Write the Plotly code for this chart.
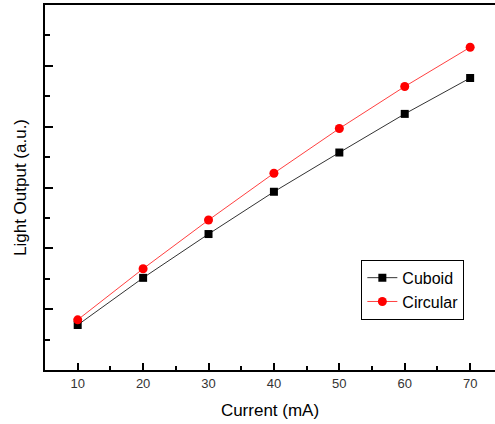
import plotly.graph_objects as go

current = [10, 20, 30, 40, 50, 60, 70]
cuboid = [1.48, 3.03, 4.47, 5.86, 7.15, 8.42, 9.60]
circular = [1.65, 3.33, 4.93, 6.47, 7.94, 9.32, 10.61]

FONT = "Liberation Sans, Arial, sans-serif"

fig = go.Figure()
fig.add_trace(go.Scatter(
    x=current, y=cuboid, name="Cuboid", mode="lines+markers",
    line=dict(color="#333333", width=1),
    marker=dict(symbol="square", size=8, color="black"),
))
fig.add_trace(go.Scatter(
    x=current, y=circular, name="Circular", mode="lines+markers",
    line=dict(color="#ff4040", width=1),
    marker=dict(symbol="circle", size=9, color="#ff0000"),
))

fig.update_layout(
    width=495, height=424,
    margin=dict(l=45, r=0, t=5, b=54, autoexpand=False),
    paper_bgcolor="white", plot_bgcolor="white",
    font=dict(family=FONT, color="black"),
    showlegend=True,
    legend=dict(
        x=0.703, y=0.302, xanchor="left", yanchor="top",
        bordercolor="black", borderwidth=1, bgcolor="white",
        font=dict(size=16, family=FONT, color="black"),
        tracegroupgap=0,
    ),
    xaxis=dict(
        range=[5, 73.8], showgrid=False, zeroline=False, automargin=False,
        showline=True, linecolor="black", linewidth=2, mirror=True,
        ticks="inside", ticklen=7, tickwidth=1.5, tickcolor="black",
        tick0=0, dtick=10,
        tickfont=dict(size=13, color="#333333", family=FONT),
        minor=dict(ticks="inside", ticklen=4, tickwidth=1.5, tickcolor="black", dtick=5, showgrid=False),
        title=dict(text="Current (mA)", font=dict(size=17, family=FONT), standoff=15),
    ),
    yaxis=dict(
        range=[0, 12], showgrid=False, zeroline=False, automargin=False,
        showline=True, linecolor="black", linewidth=2,
        ticks="inside", ticklen=8, tickwidth=1.5, tickcolor="black",
        tick0=0, dtick=2, showticklabels=False,
        minor=dict(ticks="inside", ticklen=5, tickwidth=1.5, tickcolor="black", dtick=1, showgrid=False),
        title=dict(text="Light Output (a.u.)", font=dict(size=17, family=FONT), standoff=12),
    ),
)

fig.write_html(
    "out.html",
    config={"displayModeBar": False},
    post_script="document.body.style.margin='0';document.body.style.padding='0';",
)
